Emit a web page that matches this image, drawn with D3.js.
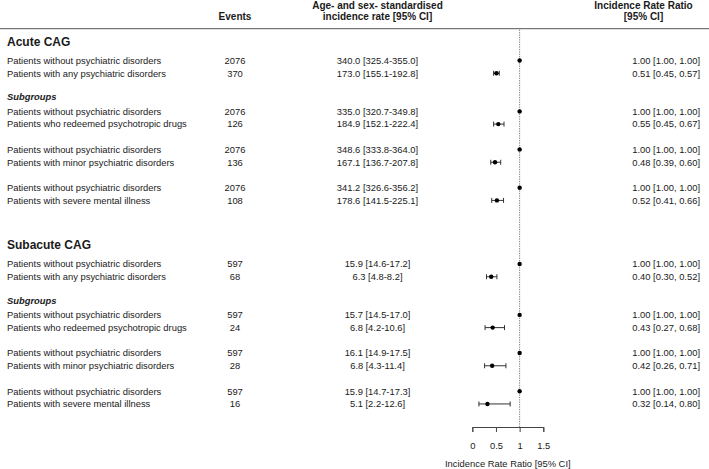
<!DOCTYPE html>
<html><head><meta charset="utf-8">
<script src="https://cdn.jsdelivr.net/npm/d3@7"></script>
<style>
body{margin:0;background:#fff}
svg{display:block}
text{font-family:"Liberation Sans",Arial,Helvetica,sans-serif;fill:#1a1a1a}
</style>
</head><body>
<svg id="c" width="709" height="469"></svg>
<script>
// ---------- data ----------
const sectionTitles = ["Acute CAG", "Subacute CAG"];
const subgroupLabel = "Subgroups";
const rowLabels = [
  "Acute CAG",
  "Patients without psychiatric disorders",
  "Patients with any psychiatric disorders",
  "",
  "Subgroups",
  "Patients without psychiatric disorders",
  "Patients who redeemed psychotropic drugs",
  "",
  "Patients without psychiatric disorders",
  "Patients with minor psychiatric disorders",
  "",
  "Patients without psychiatric disorders",
  "Patients with severe mental illness",
  "",
  "",
  "Subacute CAG",
  "Patients without psychiatric disorders",
  "Patients with any psychiatric disorders",
  "",
  "Subgroups",
  "Patients without psychiatric disorders",
  "Patients who redeemed psychotropic drugs",
  "",
  "Patients without psychiatric disorders",
  "Patients with minor psychiatric disorders",
  "",
  "Patients without psychiatric disorders",
  "Patients with severe mental illness"
];
const events = ["", "2076", "370", "", "", "2076", "126", "", "2076", "136", "", "2076", "108", "", "",
                "", "597", "68", "", "", "597", "24", "", "597", "28", "", "597", "16"];
const rateCI = ["", "340.0 [325.4-355.0]", "173.0 [155.1-192.8]", "", "",
  "335.0 [320.7-349.8]", "184.9 [152.1-222.4]", "",
  "348.6 [333.8-364.0]", "167.1 [136.7-207.8]", "",
  "341.2 [326.6-356.2]", "178.6 [141.5-225.1]", "", "",
  "", "15.9 [14.6-17.2]", "6.3 [4.8-8.2]", "", "",
  "15.7 [14.5-17.0]", "6.8 [4.2-10.6]", "",
  "16.1 [14.9-17.5]", "6.8 [4.3-11.4]", "",
  "15.9 [14.7-17.3]", "5.1 [2.2-12.6]"];
const irrEst  = [null, 1.00, 0.51, null, null, 1.00, 0.55, null, 1.00, 0.48, null, 1.00, 0.52, null, null,
                 null, 1.00, 0.40, null, null, 1.00, 0.43, null, 1.00, 0.42, null, 1.00, 0.32];
const irrLow  = [null, 1.00, 0.45, null, null, 1.00, 0.45, null, 1.00, 0.39, null, 1.00, 0.41, null, null,
                 null, 1.00, 0.30, null, null, 1.00, 0.27, null, 1.00, 0.26, null, 1.00, 0.14];
const irrHigh = [null, 1.00, 0.57, null, null, 1.00, 0.67, null, 1.00, 0.60, null, 1.00, 0.66, null, null,
                 null, 1.00, 0.52, null, null, 1.00, 0.68, null, 1.00, 0.71, null, 1.00, 0.80];
const xTicks = [0, 0.5, 1, 1.5];
const headerEvents = "Events";
const headerRate = ["Age- and sex- standardised", "incidence rate [95% CI]"];
const headerIRR = ["Incidence Rate Ratio", "[95% CI]"];
const axisTitle = "Incidence Rate Ratio [95% CI]";

// ---------- layout ----------
const W = 709, H = 469;
const svg = d3.select("#c");
const bodyTop = 28.7, unitH = 12.72;
const colLabelX = 7, colEventsX = 235, colRateX = 377.5, colIrrRight = 700, colIrrHeadX = 643.5;
const fs = 9.4;

// cumulative row units (title rows are two units tall)
const units = rowLabels.map(l => sectionTitles.includes(l) ? 2 : 1);
const starts = [];
let acc = 0;
units.forEach(u => { starts.push(acc); acc += u; });
const totalUnits = acc;
const y = d3.scaleLinear().domain([0, totalUnits]).range([bodyTop, bodyTop + totalUnits * unitH]);
const rowY = i => y(starts[i] + units[i] / 2);

const x = d3.scaleLinear().domain([0, 1.5]).range([472.3, 543.3]);
const axisY = 427;

// header
const hdr = svg.append("g").attr("font-weight", "bold").attr("font-size", 10);
hdr.append("text").attr("x", colEventsX).attr("y", 16).attr("dy", "0.35em").attr("text-anchor", "middle").text(headerEvents);
headerRate.forEach((t, k) => hdr.append("text").attr("x", colRateX).attr("y", 5 + k * 11.3).attr("dy", "0.35em").attr("text-anchor", "middle").text(t));
headerIRR.forEach((t, k) => hdr.append("text").attr("x", colIrrHeadX).attr("y", 5 + k * 11.3).attr("dy", "0.35em").attr("text-anchor", "middle").text(t));
svg.append("line").attr("x1", 0).attr("x2", W).attr("y1", bodyTop).attr("y2", bodyTop)
  .attr("stroke", "#555").attr("stroke-width", 1);

// reference line
svg.append("line").attr("x1", x(1)).attr("x2", x(1)).attr("y1", bodyTop + 1).attr("y2", axisY)
  .attr("stroke", "#777").attr("stroke-width", 1).attr("stroke-dasharray", "1.2,1.2");

// rows
const body = svg.append("g");
rowLabels.forEach((lab, i) => {
  const yy = rowY(i);
  if (sectionTitles.includes(lab)) {
    body.append("text").attr("x", colLabelX).attr("y", yy).attr("dy", "0.35em")
      .attr("font-weight", "bold").attr("font-size", 12).text(lab);
    return;
  }
  if (lab === subgroupLabel) {
    body.append("text").attr("x", colLabelX).attr("y", yy - 1.5).attr("dy", "0.35em")
      .attr("font-weight", "bold").attr("font-style", "italic").attr("font-size", fs).text(lab);
    return;
  }
  if (!lab) return;
  body.append("text").attr("x", colLabelX).attr("y", yy).attr("dy", "0.35em").attr("font-size", fs).text(lab);
  body.append("text").attr("x", colEventsX).attr("y", yy).attr("dy", "0.35em").attr("font-size", fs)
    .attr("text-anchor", "middle").text(events[i]);
  body.append("text").attr("x", colRateX).attr("y", yy).attr("dy", "0.35em").attr("font-size", fs)
    .attr("text-anchor", "middle").text(rateCI[i]);
  const e = irrEst[i], lo = irrLow[i], hi = irrHigh[i];
  body.append("text").attr("x", colIrrRight).attr("y", yy).attr("dy", "0.35em").attr("font-size", fs)
    .attr("text-anchor", "end").text(`${e.toFixed(2)} [${lo.toFixed(2)}, ${hi.toFixed(2)}]`);
  if (hi > lo) {
    body.append("line").attr("x1", x(lo)).attr("x2", x(hi)).attr("y1", yy).attr("y2", yy)
      .attr("stroke", "#333").attr("stroke-width", 1);
    [lo, hi].forEach(v => body.append("line").attr("x1", x(v)).attr("x2", x(v))
      .attr("y1", yy - 2.5).attr("y2", yy + 2.5).attr("stroke", "#333").attr("stroke-width", 1));
  }
  body.append("circle").attr("cx", x(e)).attr("cy", yy).attr("r", 2.2).attr("fill", "#000");
});

// axis
const ax = svg.append("g").attr("transform", `translate(0,${axisY})`)
  .call(d3.axisBottom(x).tickValues(xTicks).tickSize(5).tickSizeOuter(5).tickPadding(10).tickFormat(d3.format("")));
ax.selectAll("path,line").attr("stroke", "#444");
ax.selectAll("text").attr("font-size", fs).attr("font-family", "Liberation Sans, Arial, sans-serif").attr("fill", "#1a1a1a");
svg.append("text").attr("x", (x(0) + x(1.5)) / 2).attr("y", 463.5).attr("dy", "0.35em")
  .attr("text-anchor", "middle").attr("font-size", fs).text(axisTitle);
</script>
</body></html>
